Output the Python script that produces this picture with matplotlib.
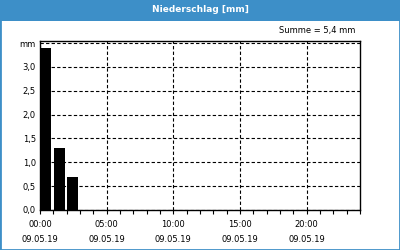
import matplotlib
matplotlib.use("Agg")
import matplotlib.pyplot as plt
from matplotlib.patches import Rectangle

# Data
hours = [0, 1, 2]
precip = [3.4, 1.3, 0.7]
major_ticks = [0, 5, 10, 15, 20]
major_labels = ["00:00\n09.05.19", "05:00\n09.05.19", "10:00\n09.05.19",
                "15:00\n09.05.19", "20:00\n09.05.19"]
y_ticks = [0.0, 0.5, 1.0, 1.5, 2.0, 2.5, 3.0]
y_labels = ["0,0", "0,5", "1,0", "1,5", "2,0", "2,5", "3,0"]
title = "Niederschlag [mm]"
summe = "Summe = 5,4 mm"

blue = "#3d8fc8"
plt.rcParams['font.family'] = ['DejaVu Sans']

fig = plt.figure(figsize=(4, 2.5), dpi=100)
fig.patch.set_facecolor("white")

# border and title bar
fig.add_artist(Rectangle((0, 0), 1, 1, transform=fig.transFigure,
                         facecolor="none", edgecolor=blue, linewidth=2))
fig.add_artist(Rectangle((0, 1 - 21/250), 1, 21/250, transform=fig.transFigure,
                         facecolor=blue, edgecolor="none"))
fig.text(0.5, 1 - 10/250, title, color="white", fontsize=6.5, fontweight="bold",
         ha="center", va="center")
fig.text(355/400, 1 - 31/250, summe, color="black", fontsize=6, ha="right", va="center")

ax = fig.add_axes([40/400, 40/250, 320/400, 169/250])
ax.bar([h + 0.45 for h in hours], precip, width=0.82, color="black", zorder=3)
ax.set_xlim(0, 24)
ax.set_ylim(0, 3.543)

ax.set_xticks(major_ticks)
ax.set_xticklabels(major_labels, fontsize=6, linespacing=1.9)
ax.set_xticks(range(0, 25), minor=True)
ax.tick_params(axis="x", which="both", direction="out", length=3, width=0.8, pad=4)

ax.set_yticks(y_ticks + [3.5])
ax.set_yticklabels(y_labels + ["mm"], fontsize=6)
ax.tick_params(axis="y", length=0, pad=3)

ax.grid(True, which="major", color="black", linestyle=(0, (3, 2)), linewidth=0.8)
ax.set_axisbelow(True)
for s in ax.spines.values():
    s.set_linewidth(1.0)
    s.set_color("black")

fig.savefig("out.png", dpi=100)
